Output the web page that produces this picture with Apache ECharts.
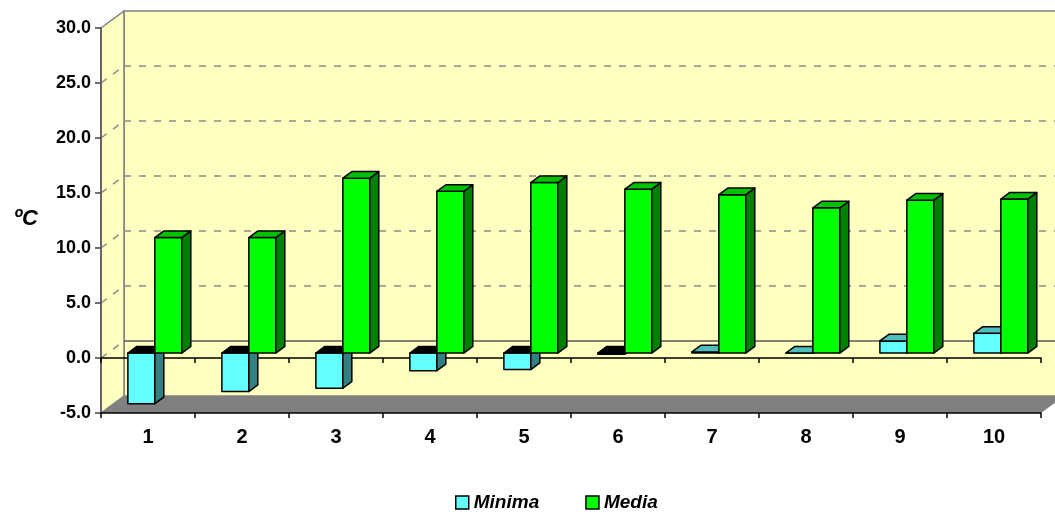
<!DOCTYPE html>
<html>
<head>
<meta charset="utf-8">
<title>Temperaturas</title>
<script src="https://cdn.jsdelivr.net/npm/echarts@6/dist/echarts.min.js"></script>
<style>
  html, body { margin: 0; padding: 0; background: #ffffff; }
  #chart { width: 1055px; height: 512px; }
</style>
</head>
<body>
<div id="chart"></div>
<script>
// Category labels (days) and the two temperature series, in ºC
const categories = ['1', '2', '3', '4', '5', '6', '7', '8', '9', '10'];
const minima = [-4.6, -3.5, -3.2, -1.6, -1.5, -0.1, 0.1, 0.0, 1.1, 1.8];
const media = [10.5, 10.5, 15.9, 14.7, 15.5, 14.9, 14.4, 13.2, 13.9, 14.0];

// Value axis range and step
const Y_MIN = -5;
const Y_MAX = 30;
const Y_STEP = 5;

// Pseudo-3D geometry: depth vector of the plot box (px) and where the bars sit in depth
const DEPTH = [23, -17];
const BAR_FRONT = 0.29;
const BAR_BACK = 0.68;
const BAR_GAP = 0.215;   // free space at each side of a category, as share of its width
const BAR_W = 0.287;     // width of one bar, as share of the category width

const WALL = '#FFFFC0';
const FLOOR = '#808080';
const GRID = '#8C8C8C';

const FONT = '"Liberation Sans", Arial, sans-serif';

// Back wall, side wall, floor and the value gridlines drawn on the walls
function renderWalls(params, api) {
  const cs = params.coordSys;
  const dx = DEPTH[0], dy = DEPTH[1];
  const left = cs.x, right = cs.x + cs.width;
  const top = api.coord([0, Y_MAX])[1];
  const bottom = api.coord([0, Y_MIN])[1];
  const children = [
    {
      type: 'polygon',
      shape: { points: [[left + dx, top + dy], [right + dx, top + dy], [right + dx, bottom + dy], [left + dx, bottom + dy]] },
      style: { fill: WALL, stroke: '#808080', lineWidth: 1.5 }
    },
    {
      type: 'polygon',
      shape: { points: [[left, top], [left + dx, top + dy], [left + dx, bottom + dy], [left, bottom]] },
      style: { fill: WALL, stroke: '#808080', lineWidth: 1.5 }
    },
    {
      type: 'polygon',
      shape: { points: [[left, bottom], [right, bottom], [right + dx, bottom + dy], [left + dx, bottom + dy]] },
      style: { fill: FLOOR, stroke: null }
    }
  ];
  for (let v = Y_MIN + Y_STEP; v < Y_MAX; v += Y_STEP) {
    const y = api.coord([0, v])[1];
    const zero = v === 0;
    children.push({
      type: 'line',
      shape: { x1: left + dx, y1: y + dy, x2: right + dx, y2: y + dy },
      style: zero
        ? { stroke: '#5A5A5A', lineWidth: 1.5 }
        : { stroke: GRID, lineWidth: 1.5, lineDash: [7, 8] }
    });
    children.push({
      type: 'line',
      shape: { x1: left, y1: y, x2: left + dx, y2: y + dy },
      style: { stroke: GRID, lineWidth: 1.5, lineDash: [7, 8] }
    });
  }
  return { type: 'group', children: children };
}

// Box-shaped column: front face, right side and top face
function barRenderer(slot, colors) {
  return function (params, api) {
    const i = api.value(0);
    const v = api.value(1);
    const base = api.coord([i, 0]);
    const tip = api.coord([i, v]);
    const catW = api.size([1, 0])[0];
    const x0 = base[0] - catW / 2 + catW * (BAR_GAP + slot * BAR_W);
    const x1 = x0 + catW * BAR_W;
    const yTop = Math.min(base[1], tip[1]);
    const yBot = Math.max(base[1], tip[1]);
    const fx = DEPTH[0] * BAR_FRONT, fy = DEPTH[1] * BAR_FRONT;
    const bx = DEPTH[0] * BAR_BACK, by = DEPTH[1] * BAR_BACK;
    const edge = { stroke: '#000', lineWidth: 1.5, lineJoin: 'round' };
    const topFill = v < 0 ? '#000000' : colors.top;
    return {
      type: 'group',
      children: [
        {
          type: 'polygon',
          shape: { points: [[x0 + fx, yTop + fy], [x1 + fx, yTop + fy], [x1 + fx, yBot + fy], [x0 + fx, yBot + fy]] },
          style: Object.assign({ fill: colors.front }, edge)
        },
        {
          type: 'polygon',
          shape: { points: [[x1 + fx, yTop + fy], [x1 + bx, yTop + by], [x1 + bx, yBot + by], [x1 + fx, yBot + fy]] },
          style: Object.assign({ fill: colors.side }, edge)
        },
        {
          type: 'polygon',
          shape: { points: [[x0 + fx, yTop + fy], [x1 + fx, yTop + fy], [x1 + bx, yTop + by], [x0 + bx, yTop + by]] },
          style: Object.assign({ fill: topFill }, edge)
        }
      ]
    };
  };
}

const chart = echarts.init(document.getElementById('chart'), null, { renderer: 'canvas' });

const axisFont = { color: '#000', fontWeight: 'bold', fontFamily: FONT };

chart.setOption({
  animation: false,
  backgroundColor: '#ffffff',
  grid: { left: 101, right: 14, top: 28, height: 385 },
  graphic: [
    {
      type: 'text',
      left: 14,
      top: 208,
      style: { text: 'ºC', font: 'italic bold 22px ' + FONT, fill: '#000' }
    }
  ],
  legend: {
    data: ['Minima', 'Media'],
    left: 450,
    top: 488,
    itemWidth: 13,
    itemHeight: 13,
    itemGap: 46,
    icon: 'rect',
    itemStyle: { borderColor: '#000', borderWidth: 1.5 },
    textStyle: { color: '#000', fontStyle: 'italic', fontWeight: 'bold', fontSize: 19, fontFamily: FONT }
  },
  xAxis: [
    {
      type: 'category',
      data: categories,
      position: 'bottom',
      z: 3,
      axisLine: { onZero: false, lineStyle: { color: '#000', width: 1.5 } },
      axisTick: { show: true, length: 5, lineStyle: { color: '#000', width: 1.5 } },
      axisLabel: Object.assign({ fontSize: 20, margin: 14 }, axisFont),
      splitLine: { show: false }
    },
    {
      type: 'category',
      data: categories,
      position: 'bottom',
      z: 3,
      axisLine: { onZero: true, lineStyle: { color: '#000', width: 1.5 } },
      axisTick: { show: true, length: 5, lineStyle: { color: '#000', width: 1.5 } },
      axisLabel: { show: false },
      splitLine: { show: false }
    }
  ],
  yAxis: {
    type: 'value',
    min: Y_MIN,
    max: Y_MAX,
    interval: Y_STEP,
    z: 3,
    axisLine: { show: true, lineStyle: { color: '#666', width: 2 } },
    axisTick: { show: true, length: 6, lineStyle: { color: '#444', width: 1.5 } },
    axisLabel: Object.assign({ fontSize: 18, margin: 10, formatter: (v) => v.toFixed(1) }, axisFont),
    splitLine: { show: false }
  },
  series: [
    {
      type: 'custom',
      name: 'walls',
      z: 1,
      silent: true,
      clip: false,
      renderItem: renderWalls,
      data: [[0, 0]]
    },
    {
      type: 'custom',
      name: 'Minima',
      z: 5,
      clip: false,
      itemStyle: { color: '#66FFFF', borderColor: '#000', borderWidth: 1.5 },
      renderItem: barRenderer(0, { front: '#66FFFF', side: '#338080', top: '#4DBDBD' }),
      data: minima.map((v, i) => [i, v])
    },
    {
      type: 'custom',
      name: 'Media',
      z: 6,
      clip: false,
      itemStyle: { color: '#00FF00', borderColor: '#000', borderWidth: 1.5 },
      renderItem: barRenderer(1, { front: '#00FF00', side: '#008000', top: '#00C000' }),
      data: media.map((v, i) => [i, v])
    }
  ]
});
</script>
</body>
</html>
